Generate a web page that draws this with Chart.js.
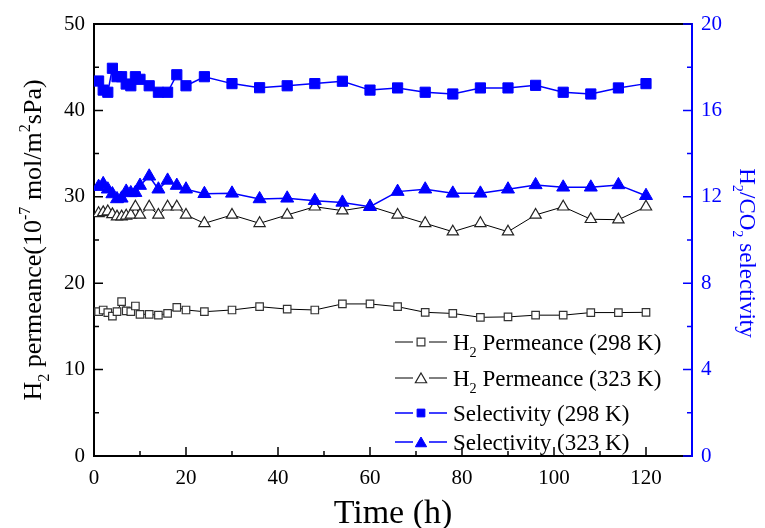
<!DOCTYPE html>
<html><head><meta charset="utf-8">
<script src="https://cdn.jsdelivr.net/npm/chart.js@4/dist/chart.umd.min.js"></script>
<style>html,body{margin:0;padding:0;background:#fff}#wrap{width:765px;height:528px}</style>
</head><body><div id="wrap"><canvas id="c" width="765" height="528"></canvas></div>
<script>
// ---- data ----
const timeH = [1,2,3,4,5,6,7,8,9,10,12,14,16,18,20,24,30,36,42,48,54,60,66,72,78,84,90,96,102,108,114,120];
const perm298 = [16.7,16.9,16.6,16.2,16.7,17.86,16.8,16.7,17.36,16.4,16.4,16.3,16.5,17.2,16.9,16.7,16.9,17.28,17.0,16.9,17.6,17.6,17.28,16.63,16.5,16.05,16.1,16.3,16.3,16.6,16.6,16.63];
const perm323 = [28.09,28.2,28.3,27.97,27.7,27.7,27.8,27.9,28.85,27.9,28.85,27.9,28.85,28.85,27.9,26.93,27.9,26.93,27.9,28.85,28.4,28.9,27.9,26.93,25.96,26.93,25.96,27.9,28.85,27.4,27.35,28.85];
const sel298 = [17.36,16.94,16.84,17.95,17.56,17.56,17.22,17.14,17.56,17.44,17.14,16.84,16.84,17.65,17.14,17.56,17.24,17.05,17.14,17.24,17.35,16.94,17.04,16.84,16.76,17.04,17.04,17.16,16.84,16.76,17.04,17.24];
const sel323 = [12.47,12.6,12.35,12.13,11.9,11.93,12.25,12.18,12.19,12.52,12.95,12.35,12.76,12.52,12.35,12.14,12.16,11.9,11.93,11.82,11.74,11.54,12.24,12.35,12.16,12.16,12.35,12.55,12.44,12.44,12.55,12.05];
const xTicks = [0,20,40,60,80,100,120];
const xMinor = [10,30,50,70,90,110];
const yLeftTicks = [0,10,20,30,40,50];
const yLeftMinor = [5,15,25,35,45];
const yRightTicks = [0,4,8,12,16,20];
const yRightMinor = [2,6,10,14,18];
const legendLabels = [
  [{t:'H'},{t:'2',sub:true},{t:' Permeance (298 K)'}],
  [{t:'H'},{t:'2',sub:true},{t:' Permeance (323 K)'}],
  [{t:'Selectivity (298 K)'}],
  [{t:'Selectivity (323 K)'}]
];
const xTitle = [{t:'Time (h)'}];
const yTitle = [{t:'H'},{t:'2',sub:true},{t:' permeance(10'},{t:'-7',sup:true},{t:' mol/m'},{t:'2',sup:true},{t:'sPa)'}];
const y1Title = [{t:'H'},{t:'2',sub:true},{t:'/CO'},{t:'2',sub:true},{t:' selectivity'}];

const BLUE = '#0000ff';
const FONT = 'Liberation Serif';
const pts = (ys) => timeH.map((t,i)=>({x:t,y:ys[i]}));

const datasets = [
  {label:'Selectivity (323 K)', data:pts(sel323), yAxisID:'y1', borderColor:BLUE, borderWidth:1.5,
   pointStyle:'triangle', pointRadius:7.5, pointBackgroundColor:BLUE, pointBorderColor:BLUE, pointBorderWidth:1},
  {label:'Selectivity (298 K)', data:pts(sel298), yAxisID:'y1', borderColor:BLUE, borderWidth:1.5,
   pointStyle:'rect', pointRadius:7.2, pointBackgroundColor:BLUE, pointBorderColor:BLUE, pointBorderWidth:1},
  {label:'H2 Permeance (323 K)', data:pts(perm323), yAxisID:'y', borderColor:'#000', borderWidth:1,
   pointStyle:'triangle', pointRadius:6.5, pointBackgroundColor:'#fff', pointBorderColor:'#222', pointBorderWidth:1.2},
  {label:'H2 Permeance (298 K)', data:pts(perm298), yAxisID:'y', borderColor:'#000', borderWidth:1,
   pointStyle:'rect', pointRadius:5.3, pointBackgroundColor:'#fff', pointBorderColor:'#333', pointBorderWidth:1.2}
];

function richWidth(ctx, parts, size){
  let w=0;
  for(const p of parts){
    const s = (p.sub||p.sup)? size*0.62 : size;
    ctx.font = s+'px "'+FONT+'"';
    w += ctx.measureText(p.t).width;
  }
  return w;
}
function drawRich(ctx, parts, x, y, size, color, align){
  const w = richWidth(ctx, parts, size);
  let cx = align==='center'? x - w/2 : x;
  ctx.fillStyle = color; ctx.textBaseline='alphabetic'; ctx.textAlign='left';
  for(const p of parts){
    const s = (p.sub||p.sup)? size*0.62 : size;
    ctx.font = s+'px "'+FONT+'"';
    const dy = p.sub? size*0.32 : (p.sup? -size*0.42 : 0);
    ctx.fillText(p.t, cx, y+dy);
    cx += ctx.measureText(p.t).width;
  }
}

const decor = {
  id:'decor',
  afterDraw(chart){
    const ctx = chart.ctx, a = chart.chartArea;
    const sx = chart.scales.x, sy = chart.scales.y, sy1 = chart.scales.y1;
    ctx.save();
    // top frame line
    ctx.strokeStyle='#000'; ctx.lineWidth=2;
    ctx.beginPath(); ctx.moveTo(a.left, a.top); ctx.lineTo(a.right, a.top); ctx.stroke();
    // inward ticks
    ctx.lineWidth=1.5;
    ctx.beginPath();
    xTicks.forEach(v=>{const px=sx.getPixelForValue(v); ctx.moveTo(px,a.bottom); ctx.lineTo(px,a.bottom-9);});
    xMinor.forEach(v=>{const px=sx.getPixelForValue(v); ctx.moveTo(px,a.bottom); ctx.lineTo(px,a.bottom-5);});
    yLeftTicks.forEach(v=>{const py=sy.getPixelForValue(v); ctx.moveTo(a.left,py); ctx.lineTo(a.left+9,py);});
    yLeftMinor.forEach(v=>{const py=sy.getPixelForValue(v); ctx.moveTo(a.left,py); ctx.lineTo(a.left+5,py);});
    ctx.stroke();
    ctx.strokeStyle=BLUE;
    ctx.beginPath();
    yRightTicks.forEach(v=>{const py=sy1.getPixelForValue(v); ctx.moveTo(a.right,py); ctx.lineTo(a.right-9,py);});
    yRightMinor.forEach(v=>{const py=sy1.getPixelForValue(v); ctx.moveTo(a.right,py); ctx.lineTo(a.right-5,py);});
    ctx.stroke();
    // axis titles
    drawRich(ctx, xTitle, (a.left+a.right)/2, 523, 34, '#000', 'center');
    ctx.save(); ctx.translate(41, (a.top+a.bottom)/2); ctx.rotate(-Math.PI/2);
    drawRich(ctx, yTitle, 0, 0, 26, '#000', 'center'); ctx.restore();
    ctx.save(); ctx.translate(740, 253); ctx.rotate(Math.PI/2);
    drawRich(ctx, y1Title, 0, 0, 23, BLUE, 'center'); ctx.restore();
    // legend
    const rows = [342, 378, 413, 442];
    const order = [3,2,1,0];
    rows.forEach((ry,i)=>{
      const ds = datasets[order[i]];
      ctx.strokeStyle = ds.borderColor; ctx.lineWidth = ds.borderWidth;
      ctx.beginPath(); ctx.moveTo(395,ry); ctx.lineTo(413,ry); ctx.moveTo(429,ry); ctx.lineTo(447,ry); ctx.stroke();
      ctx.fillStyle = ds.pointBackgroundColor; ctx.strokeStyle = ds.pointBorderColor;
      ctx.lineWidth = ds.pointBorderWidth;
      Chart.helpers.drawPoint(ctx, {pointStyle:ds.pointStyle, radius: ds.pointStyle==='rect'?5.5:6.5, rotation:0, borderWidth:ds.pointBorderWidth}, 421, ry + (ds.pointStyle==='triangle'?1.5:0));
      drawRich(ctx, legendLabels[i], 453, ry+8, 23, '#000', 'left');
    });
    ctx.restore();
  }
};

new Chart(document.getElementById('c'), {
  type:'line',
  data:{datasets},
  options:{
    responsive:false, animation:false, devicePixelRatio:1,
    layout:{padding:{top:24,left:0,right:0,bottom:0}},
    plugins:{legend:{display:false}, tooltip:{enabled:false}},
    elements:{line:{tension:0}},
    scales:{
      x:{type:'linear', min:0, max:130,
        afterBuildTicks:s=>{s.ticks = xTicks.map(v=>({value:v}));},
        afterFit:s=>{s.height=72;},
        grid:{display:false, drawTicks:false},
        border:{display:true,color:'#000',width:2},
        ticks:{font:{family:FONT,size:21}, color:'#000', padding:10, maxRotation:0, autoSkip:false}},
      y:{type:'linear', position:'left', min:0, max:50,
        afterBuildTicks:s=>{s.ticks = yLeftTicks.map(v=>({value:v}));},
        afterFit:s=>{s.width=94;},
        grid:{display:false, drawTicks:false},
        border:{display:true,color:'#000',width:2},
        ticks:{font:{family:FONT,size:21}, color:'#000', padding:9}},
      y1:{type:'linear', position:'right', min:0, max:20,
        afterBuildTicks:s=>{s.ticks = yRightTicks.map(v=>({value:v}));},
        afterFit:s=>{s.width=73;},
        grid:{display:false, drawTicks:false},
        border:{display:true,color:BLUE,width:2},
        ticks:{font:{family:FONT,size:21}, color:BLUE, padding:9}}
    }
  },
  plugins:[decor]
});
</script></body></html>
